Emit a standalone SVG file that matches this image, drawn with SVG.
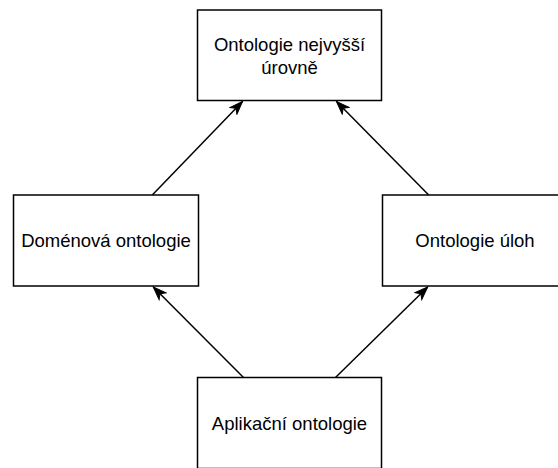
<svg xmlns="http://www.w3.org/2000/svg" width="558" height="468" viewBox="0 0 558 468">
  <style>
    .box { fill: #ffffff; stroke: #000000; stroke-width: 1.5; }
    .label { font-family: "Liberation Sans", Arial, Helvetica, sans-serif; font-size: 18.5px; fill: #000000; text-anchor: middle; }
    .edge { fill: none; stroke: #000000; stroke-width: 1.5; marker-end: url(#arrow); }
  </style>
  <defs>
    <marker id="arrow" markerUnits="userSpaceOnUse" markerWidth="16" markerHeight="12" viewBox="-14 -6 16 12" refX="0" refY="0" orient="auto">
      <path d="M0,0 L-13,-4.8 L-9.5,0 L-13,4.8 Z" fill="#000000" stroke="#000000" stroke-width="1"/>
    </marker>
  </defs>

  <rect width="558" height="468" fill="#ffffff"/>

  <g id="connectors">
    <path class="edge" d="M152.3,195 L242.5,101.5"/>
    <path class="edge" d="M428.7,195 L336.5,101.5"/>
    <path class="edge" d="M243.5,377.5 L153.3,287"/>
    <path class="edge" d="M335.5,377.5 L427.7,287"/>
  </g>

  <g id="top-level">
    <rect class="box" x="197.5" y="10" width="184" height="90.5"/>
    <text class="label" x="289.5" y="50.7">Ontologie nejvyšší</text>
    <text class="label" x="289.5" y="73.5">úrovně</text>
  </g>

  <g id="domain">
    <rect class="box" x="13.5" y="195" width="185" height="91"/>
    <text class="label" x="106" y="246.5">Doménová ontologie</text>
  </g>

  <g id="task">
    <rect class="box" x="382.5" y="195" width="185" height="91"/>
    <text class="label" x="475" y="246.5">Ontologie úloh</text>
  </g>

  <g id="application">
    <rect class="box" x="197.5" y="377.5" width="184" height="91"/>
    <text class="label" x="289.5" y="429.5">Aplikační ontologie</text>
  </g>
</svg>
